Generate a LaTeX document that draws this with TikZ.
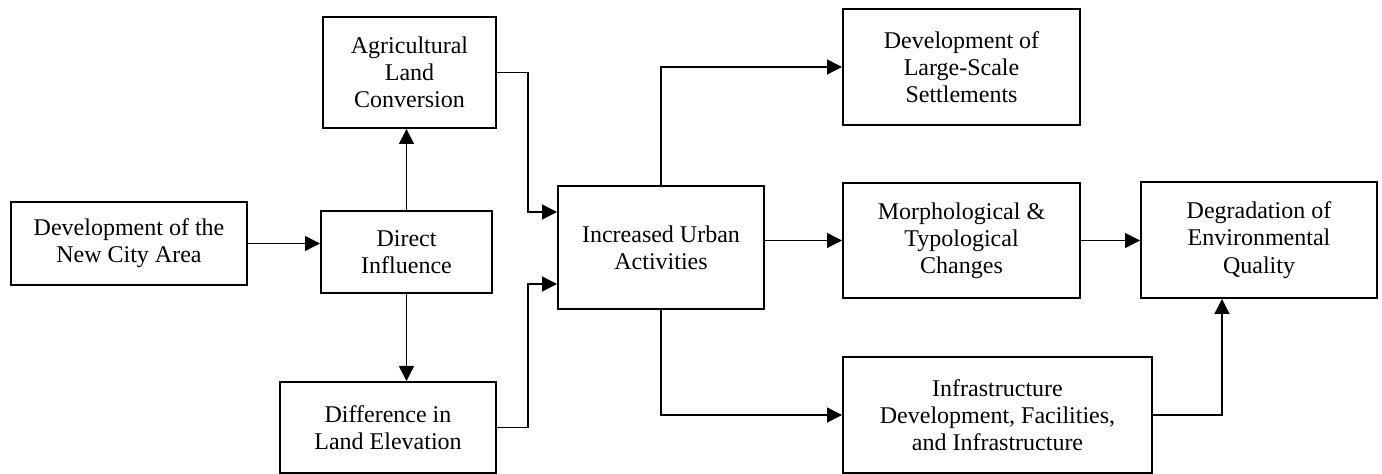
\documentclass[tikz,border=0pt]{standalone}
\usepackage{fontspec}
\setmainfont{Liberation Serif}
\usepackage{tikz}
\usetikzlibrary{arrows.meta,positioning}

\tikzset{
  box/.style={draw, line width=1pt, align=center, inner sep=2pt,
    font=\fontsize{12}{13.6}\selectfont},
  link/.style={line width=0.7pt, -{Triangle[length=7.5pt, width=7.5pt]}}
}

\begin{document}
\begin{tikzpicture}[x=0.5pt, y=-0.5pt]
  \useasboundingbox (0,0) rectangle (1382,474);

  % Left part
  \node[box, minimum width=118pt, minimum height=41.5pt] (newcity) at (129,243.5)
    {Development of the\\New City Area};
  \node[box, minimum width=85.5pt, minimum height=41pt] (direct) at (406.5,252)
    {Direct\\Influence};
  \node[box, minimum width=86.5pt, minimum height=55.5pt] (agri) at (409.5,72.5)
    {Agricultural\\Land\\Conversion};
  \node[box, minimum width=108pt, minimum height=45.5pt] (diff) at (388,427.5)
    {Difference in\\Land Elevation};

  % Middle
  \node[box, minimum width=103pt, minimum height=61.5pt] (urban) at (661,247.5)
    {Increased Urban\\Activities};

  % Right part
  \node[box, minimum width=118.5pt, minimum height=58pt] (settle) at (961.5,67)
    {Development of\\Large-Scale\\Settlements};
  \node[box, minimum width=118.5pt, minimum height=57.5pt] (morph) at (961.5,240.5)
    {Morphological \&\\Typological\\Changes};
  \node[box, minimum width=154.5pt, minimum height=58pt] (infra) at (997.5,415)
    {Infrastructure\\Development, Facilities,\\and Infrastructure};
  \node[box, minimum width=118pt, minimum height=58pt] (degrad) at (1259,240)
    {Degradation of\\Environmental\\Quality};

  % Junction points
  \coordinate (joinL) at (528,0);
  \coordinate (urbanA) at (urban.west |- 0,212);
  \coordinate (urbanB) at (urban.west |- 0,284);
  \coordinate (degradIn) at (1222,0);

  % Connectors
  \draw[link] (newcity.east) -- (newcity.east -| direct.west);
  \draw[link] (direct.north) -- (direct.north |- agri.south);
  \draw[link] (direct.south) -- (direct.south |- diff.north);
  \draw[link] (agri.east) -| (joinL |- urbanA) -- (urbanA);
  \draw[link] (diff.east) -| (joinL |- urbanB) -- (urbanB);
  \draw[link] (urban.north) |- (settle.west);
  \draw[link] (urban.east |- morph.west) -- (morph.west);
  \draw[link] (urban.south) |- (infra.west);
  \draw[link] (morph.east) -- (morph.east -| degrad.west);
  \draw[link] (infra.east) -| (degradIn |- degrad.south);
\end{tikzpicture}
\end{document}
